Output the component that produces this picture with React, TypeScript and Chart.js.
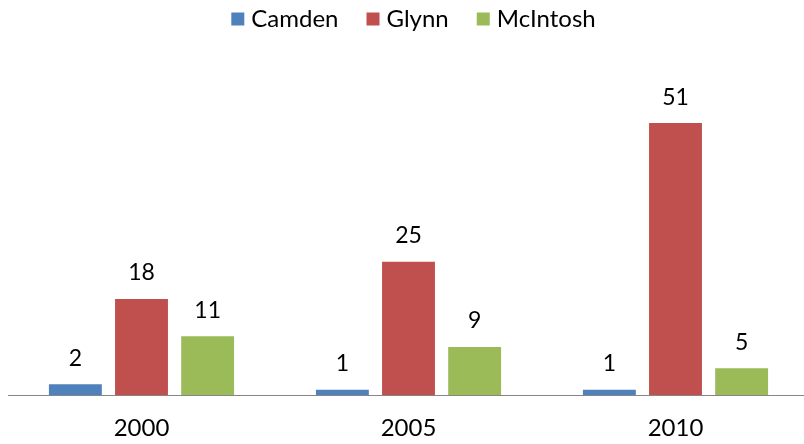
import React, { useEffect, useRef } from "react";
import { Chart, registerables } from "chart.js";

Chart.register(...registerables);

const categories = ["2000", "2005", "2010"];
const camden = [2, 1, 1];
const glynn = [18, 25, 51];
const mcintosh = [11, 9, 5];
const seriesNames = ["Camden", "Glynn", "McIntosh"];
const seriesColors = ["#4F81BD", "#C0504D", "#9BBB59"];

const FONT = "Lato, 'Open Sans', sans-serif";

const dataLabels = {
  id: "dataLabels",
  afterDatasetsDraw(chart: any) {
    const ctx = chart.ctx;
    ctx.save();
    ctx.font = `23px ${FONT}`;
    ctx.fillStyle = "#000";
    ctx.textAlign = "center";
    ctx.textBaseline = "middle";
    chart.data.datasets.forEach((ds: any, i: number) => {
      const meta = chart.getDatasetMeta(i);
      meta.data.forEach((el: any, j: number) => {
        ctx.fillText(String(ds.data[j]), el.x, el.y - 26);
      });
    });
    ctx.restore();
  },
};

const customLegend = {
  id: "customLegend",
  afterDraw(chart: any) {
    const ctx = chart.ctx;
    ctx.save();
    ctx.font = `24px ${FONT}`;
    ctx.textBaseline = "middle";
    ctx.textAlign = "left";
    const box = 13;
    const gap = 7;
    const itemGap = 28;
    const items = chart.data.datasets.map((ds: any) => ({
      label: ds.label,
      color: ds.backgroundColor,
      w: ctx.measureText(ds.label).width,
    }));
    const total =
      items.reduce((s: number, it: any) => s + box + gap + it.w, 0) +
      itemGap * (items.length - 1);
    let x = chart.width / 2 - total / 2;
    const cy = 19;
    items.forEach((it: any) => {
      ctx.fillStyle = it.color;
      ctx.fillRect(x, cy - box / 2, box, box);
      ctx.fillStyle = "#000";
      ctx.fillText(it.label, x + box + gap, cy);
      x += box + gap + it.w + itemGap;
    });
    ctx.restore();
  },
};

export default function App() {
  const ref = useRef<HTMLCanvasElement>(null);
  useEffect(() => {
    if (!ref.current) return;
    const values = [camden, glynn, mcintosh];
    const chart = new Chart(ref.current, {
      type: "bar",
      data: {
        labels: categories,
        datasets: seriesNames.map((name, i) => ({
          label: name,
          data: values[i],
          backgroundColor: seriesColors[i],
          borderWidth: 0,
          categoryPercentage: 0.743,
          barPercentage: 0.8,
        })),
      },
      options: {
        responsive: false,
        animation: false,
        layout: { padding: { left: 8, right: 18, top: 41, bottom: 3 } },
        plugins: {
          legend: { display: false },
          tooltip: { enabled: false },
        },
        scales: {
          x: {
            grid: { display: false, drawTicks: false },
            border: { display: true, color: "#868686", width: 1 },
            ticks: {
              font: { family: FONT, size: 24, lineHeight: 1.0 },
              color: "#000",
              padding: 21,
            },
          },
          y: {
            display: false,
            min: 0,
            max: 66.4,
          },
        },
      },
      plugins: [dataLabels, customLegend],
    });
    return () => chart.destroy();
  }, []);
  return (
    <div style={{ position: "absolute", left: 0, top: 0, width: 804, height: 444, overflow: "hidden", background: "#fff" }}>
      <canvas ref={ref} width={827} height={464} style={{ width: 827, height: 464, display: "block" }} />
    </div>
  );
}
